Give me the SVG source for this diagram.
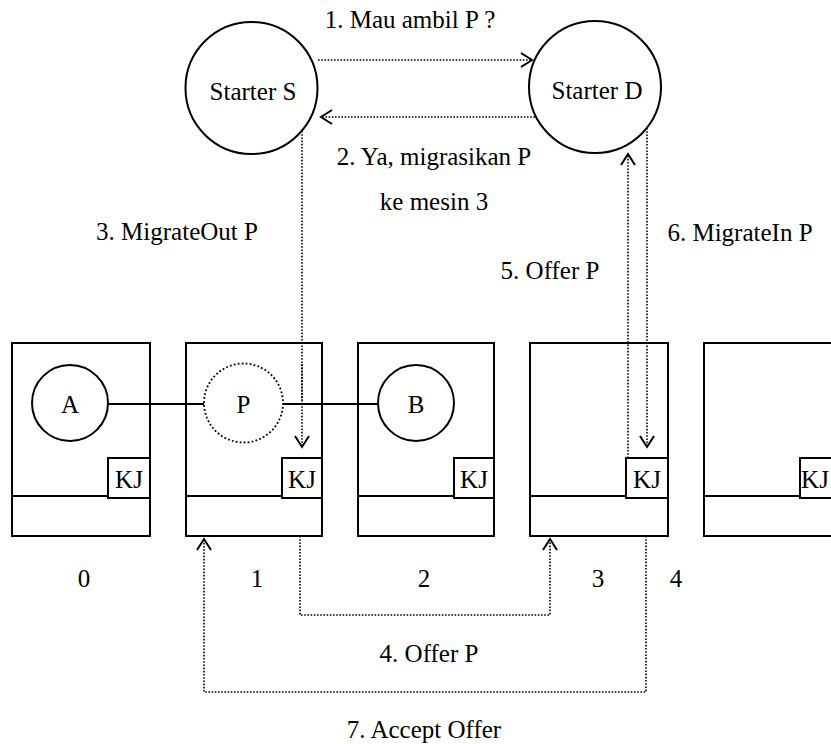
<svg xmlns="http://www.w3.org/2000/svg" width="831" height="744" viewBox="0 0 831 744">
<defs>
<style>
text{font-family:'Liberation Serif','Times New Roman',serif;font-size:25px;fill:#000;text-anchor:middle}
.box,.node{fill:#fff;stroke:#000;stroke-width:2}
.line{fill:none;stroke:#000;stroke-width:2}
.dot{fill:none;stroke:#000;stroke-width:1.6;stroke-dasharray:1.6 1.6}
.dotc{fill:#fff;stroke:#000;stroke-width:1.8;stroke-dasharray:1.8 2.2}
.arr{fill:none;stroke:#000;stroke-width:1.6;stroke-dasharray:1.6 1.6;marker-end:url(#ah)}
</style>
<marker id="ah" markerUnits="userSpaceOnUse" viewBox="-14 -9 16 18" markerWidth="16" markerHeight="18" refX="0" refY="0" orient="auto">
<path d="M-11,-7 L0,0 L-11,7" fill="none" stroke="#000" stroke-width="2"/>
</marker>
</defs>
<rect width="831" height="744" fill="#fff"/>
<g id="starterS"><circle class="node" cx="251.5" cy="88" r="66"/><text x="253" y="100">Starter S</text></g>
<g id="starterD"><circle class="node" cx="595" cy="87" r="66"/><text x="597" y="99">Starter D</text></g>

<g id="machine0">
<rect class="box" x="12" y="343" width="138" height="193"/>
<line class="line" x1="12" y1="496" x2="108" y2="496"/>
<rect class="box" x="108" y="458" width="42" height="40"/><text x="129" y="488">KJ</text>
<text x="84" y="587">0</text>
</g>
<g id="machine1">
<rect class="box" x="186" y="343" width="136" height="193"/>
<line class="line" x1="186" y1="496" x2="282" y2="496"/>
<rect class="box" x="282" y="458" width="40" height="40"/><text x="302" y="488">KJ</text>
<text x="257" y="587">1</text>
</g>
<g id="machine2">
<rect class="box" x="358" y="343" width="136" height="193"/>
<line class="line" x1="358" y1="496" x2="454" y2="496"/>
<rect class="box" x="454" y="458" width="40" height="40"/><text x="474" y="488">KJ</text>
<text x="424" y="587">2</text>
</g>
<g id="machine3">
<rect class="box" x="530" y="343" width="138" height="193"/>
<line class="line" x1="530" y1="496" x2="626" y2="496"/>
<rect class="box" x="626" y="458" width="42" height="40"/><text x="647" y="488">KJ</text>
<text x="598" y="587">3</text>
</g>
<g id="machine4">
<rect class="box" x="704" y="343" width="138" height="193"/>
<line class="line" x1="704" y1="496" x2="800" y2="496"/>
<rect class="box" x="800" y="458" width="42" height="40"/><text x="815" y="488">KJ</text>
<text x="676" y="587">4</text>
</g>

<g id="connectors">
<line class="line" x1="108" y1="404" x2="204" y2="404"/>
<line class="line" x1="283" y1="404" x2="378" y2="404"/>
<path class="arr" d="M318,60 H532"/>
<path class="arr" d="M535,117 H321"/>
<path class="arr" d="M302,131 V447"/>
<path class="arr" d="M628,458 V154"/>
<path class="arr" d="M647,128 V447"/>
<path class="arr" d="M300,536 V615 H550 V539"/>
<path class="arr" d="M646,536 V692 H204 V539"/>
</g>

<g id="procA"><circle class="node" cx="70" cy="403" r="38"/><text x="70" y="413">A</text></g>
<g id="procP"><circle class="dotc" cx="243.5" cy="403" r="39.5"/><text x="243.5" y="413">P</text></g>
<g id="procB"><circle class="node" cx="416" cy="403" r="38"/><text x="416" y="413">B</text></g>
<path class="dot" d="M302,364 V400"/>

<g id="labels">
<text x="410" y="28">1. Mau ambil P ?</text>
<text x="434" y="165">2. Ya, migrasikan P</text>
<text x="434" y="210">ke mesin 3</text>
<text x="177" y="240">3. MigrateOut P</text>
<text x="740" y="241">6. MigrateIn P</text>
<text x="550" y="279">5. Offer P</text>
<text x="429" y="662">4. Offer P</text>
<text x="424" y="738">7. Accept Offer</text>
</g>
</svg>
